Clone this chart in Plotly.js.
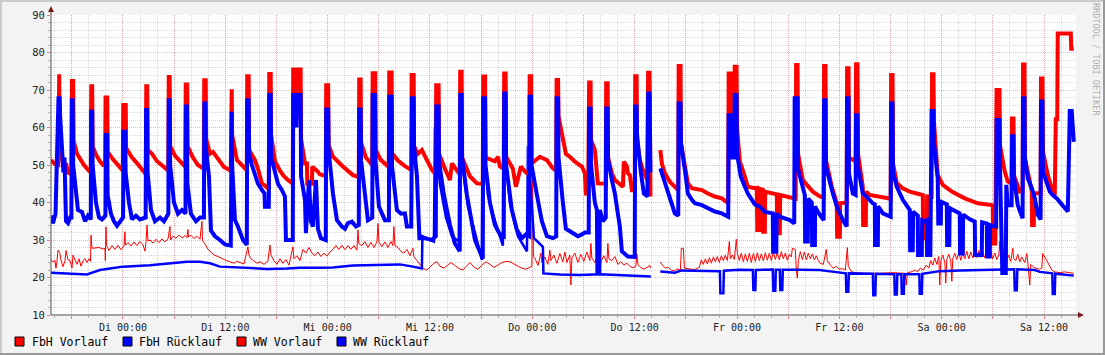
<!DOCTYPE html>
<html>
<head>
<meta charset="utf-8">
<script src="https://cdn.plot.ly/plotly-3.0.1.min.js"></script>
<style>html,body{margin:0;padding:0;background:#f3f3f3;}#chart{width:1105px;height:355px;}</style>
</head>
<body>
<div id="chart"></div>
<script>
// time axis: hours relative to "Di 00:00"
const xTickVals = [-6,0,6,12,18,24,30,36,42,48,54,60,66,72,78,84,90,96,102,108];
const xTickText = ['','Di 00:00','','Di 12:00','','Mi 00:00','','Mi 12:00','','Do 00:00','','Do 12:00','','Fr 00:00','','Fr 12:00','','Sa 00:00','','Sa 12:00'];
const seriesNames = ['FbH Vorlauf','FbH Rücklauf','WW Vorlauf','WW Rücklauf'];

// FbH Vorlauf [hour, °C]
const fbhVorlauf = [[-8.44,24.7],[-8.21,24.2],[-7.97,24.5],[-7.86,22.5],[-7.74,24.3],[-7.62,27.3],[-7.39,26.4],[-7.27,24.7],[-7.04,22.9],[-6.80,24.5],[-6.68,27.2],[-6.45,24.7],[-6.21,24.5],[-5.98,22.5],[-5.86,26],[-5.63,24.5],[-5.39,23.5],[-5.16,25],[-4.92,23],[-4.69,24.5],[-4.45,25],[-4.22,24],[-3.99,25],[-3.81,24.3],[-3.75,31.3],[-3.63,27.8],[-3.28,27.8],[-2.81,28],[-2.34,27.6],[-2.11,27.8],[-2.07,24.5],[-1.99,33.5],[-1.93,28.5],[-1.64,27.2],[-1.29,28.5],[-0.94,27.5],[-0.59,28.6],[-0.23,27.4],[0.12,28.5],[0.23,32.2],[0.29,28.6],[0.59,29.3],[0.94,28.4],[1.29,29.5],[1.64,28.5],[1.99,29.6],[2.34,28.8],[2.58,27],[2.70,29.5],[2.82,34],[2.93,29.8],[3.17,30],[3.52,29.2],[3.87,30.2],[4.22,29.3],[4.57,30.3],[4.92,29.5],[5.28,30.3],[5.51,33.6],[5.57,30],[5.86,31],[6.21,30.5],[6.57,31.3],[6.92,30.5],[7.27,31.2],[7.50,30.6],[7.62,32.8],[7.68,30.8],[7.97,31.3],[8.32,30.4],[8.68,31],[9.03,30.2],[9.26,35],[9.32,29.8],[9.61,29],[9.96,27.5],[10.32,26.8],[10.67,26],[11.02,25.7],[11.49,25.1],[11.96,24.7],[12.54,24.2],[13.01,23.8],[13.36,24.3],[13.83,24],[14.19,23.6],[14.65,28.2],[14.77,26],[15.00,25],[15.36,24.5],[15.71,23.8],[16.06,24.2],[16.53,23.5],[17.00,24.4],[17.23,28.7],[17.35,26],[17.70,24.5],[18.06,23.5],[18.41,25],[18.76,23.8],[19.11,24.8],[19.46,23.3],[19.93,28.2],[20.05,25],[20.40,25.8],[20.75,24.5],[21.10,27.5],[21.45,26.5],[21.81,28],[22.16,26.5],[22.51,25.8],[22.86,26.8],[23.21,25.6],[23.56,26.5],[23.92,25.7],[24.27,26.8],[24.62,27.5],[24.97,28.5],[25.32,27.5],[25.67,28.6],[26.03,27.4],[26.38,28.5],[26.73,27.5],[27.08,28.5],[27.43,27.3],[27.55,32.7],[27.67,29],[28.02,28.5],[28.37,29.6],[28.72,28],[29.07,29.4],[29.43,28],[29.78,29.5],[29.90,34.4],[30.01,29.5],[30.36,28.2],[30.71,29.5],[31.07,28],[31.42,29.6],[31.65,28.5],[31.77,33.6],[31.89,28.5],[32.24,28],[32.59,27],[32.95,26.5],[33.30,27.5],[33.65,25.8],[34.00,27.8],[34.11,25.6],[34.47,24.5],[34.82,23.5],[35.17,22.5],[35.64,22],[35.99,22.8],[36.46,23.8],[36.81,24.2],[37.16,23],[37.63,22.5],[38.10,23.3],[38.45,24],[38.92,23.2],[39.39,22.4],[39.86,22],[40.33,23.2],[40.68,24],[41.15,22.8],[41.62,22.2],[42.09,23.3],[42.56,24.2],[43.02,23.5],[43.49,22.7],[43.96,23.3],[44.43,24],[44.90,24.3],[45.37,24.2],[45.84,23.6],[46.31,23],[46.78,22.5],[47.25,22.2],[47.71,22.6],[47.95,23],[48.01,50],[48.13,25.5],[48.30,25.2],[48.66,23.2],[49.01,26.5],[49.12,24],[49.47,25.5],[49.82,23.5],[50.06,27.3],[50.18,24.5],[50.53,26],[50.88,23.8],[51.23,26.4],[51.58,24.2],[51.82,26.8],[52.05,24],[52.40,26],[52.52,18],[52.64,25.2],[52.99,26.5],[53.34,24],[53.69,26.2],[54.04,24.3],[54.40,26.8],[54.75,24.5],[54.87,29.1],[54.98,25.2],[55.33,24],[55.68,26],[56.04,24.2],[56.39,25.8],[56.74,24],[56.86,29.1],[56.98,25],[57.33,24.5],[57.68,25.6],[58.03,23.5],[58.38,24.2],[58.73,23.3],[59.09,23.8],[59.44,23],[59.79,22.6],[60.14,23],[60.26,26.3],[60.38,23.5],[60.73,22.6],[61.08,22.2],[61.43,22.7],[61.78,23.2],[61.90,22.5],[62.4,null],[63.01,24.2],[63.25,23.3],[63.60,22.5],[63.95,22.7],[64.30,22],[64.65,21.8],[65.01,22.3],[65.36,21.9],[65.47,27.8],[65.71,27.8],[65.83,22.5],[66.41,22.2],[67.00,22.1],[67.58,22.7],[67.82,24.7],[68.05,23.5],[68.29,25],[68.52,23.6],[68.76,25.3],[68.99,23.8],[69.23,25.5],[69.46,24.2],[69.70,25.6],[69.93,24],[70.16,25.8],[70.40,24.5],[70.63,26],[70.87,24.5],[71.10,29.6],[71.22,25],[71.45,26],[71.69,24.8],[71.92,30.2],[72.04,26.5],[72.27,24.5],[72.51,26.5],[72.74,24.2],[72.98,26.3],[73.21,24.3],[73.45,26.5],[73.68,24],[73.92,26.4],[74.15,24.3],[74.38,26.6],[74.62,24.5],[74.85,26.3],[75.09,24.4],[75.32,26.6],[75.56,24.6],[75.79,26.5],[76.03,24.5],[76.26,26.8],[76.50,24.8],[76.73,26.7],[76.96,24.7],[77.20,26.9],[77.43,25],[77.67,26.5],[77.90,24.6],[78.14,26.2],[78.37,25.5],[78.49,27.8],[78.84,27.5],[78.96,22],[79.07,19.8],[79.19,24.5],[79.43,26.9],[79.66,24.8],[79.89,26.8],[80.13,24.7],[80.36,26.5],[80.60,25],[80.83,26.3],[81.07,24.7],[81.30,25.8],[81.54,24.5],[81.77,23.8],[82.12,23.5],[82.47,27.5],[82.59,24.5],[82.94,23.3],[83.30,22.5],[83.65,23],[84.00,22.2],[84.35,22.4],[84.70,22],[84.94,28],[85.05,23],[85.40,21.6],[85.76,21.3],[86.93,21.1],[88.69,21.1],[90.21,21.3],[91.03,21.2],[91.73,21.1],[91.85,18],[91.97,21.3],[92.44,21.5],[92.91,22],[93.14,21.5],[93.49,22.5],[93.85,22],[94.20,23.3],[94.49,22.5],[94.72,24.5],[94.96,23.3],[95.19,25.2],[95.43,23.5],[95.66,25.6],[95.78,18],[95.90,24.5],[96.13,26],[96.37,24],[96.48,18.5],[96.60,24.8],[96.83,26.2],[97.07,24.4],[97.19,19],[97.30,25],[97.54,26.5],[97.77,24.8],[98.01,26.8],[98.24,24.6],[98.48,26.5],[98.71,25],[98.94,27],[99.18,25],[99.41,26.8],[99.65,25.2],[99.88,27],[100.12,25.3],[100.35,27.2],[100.59,25.4],[100.82,26.8],[101.06,25.2],[101.29,27.3],[101.52,25.5],[101.76,26.9],[101.99,25],[102.23,26.5],[102.46,24.8],[102.70,26],[102.81,29.6],[102.93,25.8],[103.17,24.5],[103.40,26.5],[103.63,24.5],[103.87,26],[104.10,24.3],[104.34,27.8],[104.45,25],[104.69,24.5],[104.92,26.2],[105.16,24.2],[105.39,25.5],[105.74,24],[105.98,26.4],[106.10,24],[106.33,18],[106.45,23.5],[106.80,22.7],[107.15,22.4],[107.50,22.2],[107.74,22.5],[107.85,26.4],[108.21,25],[108.56,23.5],[108.91,22],[109.26,21.5],[109.85,21.3],[110.43,21.5],[111.02,21.2],[111.49,21.1]];

// FbH Rücklauf [hour, °C]
const fbhRuecklauf = [[-8.44,21.3],[-7.04,21.1],[-6.21,20.9],[-5.04,20.8],[-4.22,20.8],[-3.87,21.1],[-2.70,22],[-1.52,22.4],[0,22.9],[3.17,23.3],[5.16,23.8],[7.50,24.2],[9.03,24.2],[10.20,23.8],[11.37,22.9],[12.90,22.7],[15.24,22.4],[16.88,22.3],[19.23,22.4],[20.75,22.6],[23.09,22.6],[24.62,22.7],[26.96,23.2],[28.60,23.3],[30.95,23.6],[32.47,23.5],[34.00,22.9],[35.05,22.4],[35.11,31],[36.46,29.6],[36.58,60],[37.16,45],[37.87,36],[38.57,31],[39.39,29.6],[39.45,60],[40.09,45],[40.45,38.9],[41.27,32],[42.09,24.7],[42.15,60],[42.79,42],[43.49,36],[44.55,28.5],[44.61,60],[45.37,39.8],[46.31,31],[47.37,27],[47.48,55],[48.19,30.5],[49.24,28.2],[49.30,21.1],[51.23,20.8],[53.57,20.7],[55.92,20.9],[58.26,20.7],[60.61,20.4],[61.90,20.3],[62.4,null],[63.01,21.6],[64.71,21.3],[65.53,21.9],[67.58,21.8],[69.99,21.7],[70.05,15.8],[70.40,15.8],[70.46,21.8],[72.27,22.1],[73.86,22],[73.92,16.7],[74.15,16.7],[74.21,22],[76.20,22.1],[76.26,16.5],[76.49,16.5],[76.55,22.1],[77.02,22.1],[77.08,16.7],[77.31,16.7],[77.37,22.1],[79.31,22.1],[81.65,22],[83.41,21.5],[84.76,21.1],[84.82,16.2],[85.05,16.2],[85.11,21.1],[87.93,21],[87.98,15.3],[88.22,15.3],[88.28,21],[90.45,20.9],[90.50,15.5],[90.74,15.5],[90.80,20.9],[91.27,20.9],[91.32,15.7],[91.56,15.7],[91.62,20.9],[93.38,20.9],[93.43,15.7],[93.67,15.7],[93.73,21],[94.26,21.2],[95.78,21.7],[98.12,21.9],[99.65,22],[101.64,22.2],[104.51,22.2],[104.57,16.6],[104.81,16.6],[104.87,22.2],[106.92,22],[107.50,21.5],[108.97,21.1],[109.03,15.6],[109.26,15.6],[109.32,21],[110.43,20.7],[111.49,20.5]];

// WW Vorlauf [hour, °C]
const wwVorlauf = [[-8.44,51.3],[-7.97,50.2],[-7.58,50],[-7.53,74.2],[-7.48,74.2],[-7.43,56],[-7.15,51],[-6.92,49],[-6.68,50.5],[-6.45,48],[-6.03,47.5],[-5.98,72.4],[-5.84,72.4],[-5.79,56.5],[-5.39,53],[-5.04,51.5],[-4.57,50],[-4.22,49],[-3.77,48],[-3.72,71],[-3.61,71],[-3.56,55],[-3.17,52.8],[-2.70,51],[-2.34,50],[-2.09,50],[-2.04,68],[-1.85,68],[-1.80,53.5],[-1.17,51.5],[-0.59,50],[-0.02,48.5],[0.03,66],[0.32,66],[0.37,54.5],[1.06,52],[1.64,50.5],[2.23,48.8],[2.68,47.5],[2.73,71],[2.84,71],[2.89,54],[3.40,53],[3.99,51],[4.69,49.5],[5.32,48.5],[5.37,73.5],[5.48,73.5],[5.53,55],[6.10,52.5],[6.68,51],[7.31,49.5],[7.36,71.5],[7.53,71.5],[7.58,55],[8.21,52],[8.79,50],[9.48,49],[9.53,72.6],[9.70,72.6],[9.75,57],[10.20,53],[10.55,53.5],[10.90,52.5],[11.37,51],[11.84,49.5],[12.64,48.5],[12.69,70.2],[12.75,70.2],[12.80,58],[13.36,51.3],[13.72,50.5],[14.52,48.6],[14.57,73.7],[14.74,73.7],[14.79,54],[15.47,51.3],[15.83,49],[16.30,45],[16.65,44.5],[17.10,43.5],[17.15,74.3],[17.32,74.3],[17.37,58],[17.82,51],[18.41,48.5],[18.87,47],[19.34,46],[19.91,45],[19.96,75.5],[20.28,75.5],[20.34,62],[20.40,75.5],[20.83,75.5],[20.88,57],[21.34,50.4],[21.57,50.4],[21.61,45],[22.16,45],[22.19,49.5],[22.74,48.5],[23.09,47.5],[23.78,47],[23.83,71.3],[24.06,71.3],[24.11,55.3],[24.62,52.2],[25.79,49.6],[26.96,47.3],[27.65,46.8],[27.70,72.8],[27.87,72.8],[27.92,56],[28.49,52],[29.23,50],[29.28,74.5],[29.57,74.5],[29.62,54],[30.25,51.3],[31.17,49.5],[31.22,74.7],[31.50,74.7],[31.55,53.1],[32.24,51.2],[33.06,49.7],[33.80,48.7],[33.85,74],[34.08,74],[34.13,55],[34.58,53],[35.05,54],[35.64,51.3],[36.23,48.7],[36.68,47.5],[36.73,71.3],[37.01,71.3],[37.06,53],[37.75,49],[38.34,46],[38.57,50.4],[39.04,48.7],[39.49,47.5],[39.54,74.9],[39.71,74.9],[39.76,52],[40.68,47],[41.50,45.1],[42.19,45],[42.24,73.6],[42.46,73.6],[42.51,52],[43.61,51],[43.96,52.2],[44.20,49.6],[44.65,49],[44.70,74.4],[44.87,74.4],[44.92,52.2],[45.72,49],[46.07,44.2],[46.66,49.6],[47.25,48],[47.64,47.5],[47.69,73.7],[47.86,73.7],[47.91,50.4],[48.89,52.2],[49.71,51.3],[50.41,49.1],[50.80,48.5],[50.85,72.7],[51.02,72.7],[51.07,63],[51.58,57],[51.93,53],[52.40,52.2],[52.99,50.9],[53.81,49.6],[54.16,47.8],[54.28,42.4],[54.55,42.4],[54.66,72],[54.83,72],[54.88,56.7],[55.33,54],[55.68,45.1],[56.61,45],[56.66,71.8],[56.83,71.8],[56.88,52],[57.33,47.8],[57.68,46],[58.26,44.7],[58.62,44.2],[58.73,50.9],[59.09,49.6],[59.20,47.8],[59.44,47.3],[59.67,43.3],[60.01,43.3],[60.06,73.7],[60.23,73.7],[60.28,56],[60.61,51.3],[60.96,48.7],[61.48,46],[61.58,74.6],[61.75,74.6],[61.85,41.6],[62.4,null],[63.01,54],[63.19,50.4],[63.54,47.8],[64.13,45.5],[64.71,44.2],[65.11,43.3],[65.16,76.4],[65.38,76.4],[65.43,55.8],[65.89,48.7],[66.24,45.1],[66.71,43.8],[67.88,43.3],[68.58,42.4],[69.40,41.6],[70.22,41.1],[70.97,39.8],[71.02,74.4],[71.25,74.4],[71.30,55],[71.68,55],[71.73,76.2],[71.95,76.2],[72.00,60],[72.33,51],[72.92,46.9],[73.27,44.2],[74.09,43.8],[74.32,43.9],[74.38,32.7],[74.68,32.7],[74.73,43.6],[75.03,43.4],[75.07,32.2],[75.26,32.2],[75.30,42.9],[76.67,42.2],[76.71,31.8],[77.02,31.8],[77.06,42],[78.43,41.1],[78.88,41],[78.93,76.7],[79.10,76.7],[79.15,53.1],[79.72,46],[80.19,44.7],[80.89,42.9],[81.71,41.6],[82.16,41.3],[82.21,76.4],[82.38,76.4],[82.43,51.3],[83.12,44.2],[83.70,39.8],[83.74,30.9],[84.06,30.9],[84.09,39.8],[84.86,40],[84.91,75.8],[85.08,75.8],[85.13,52],[85.91,51],[85.96,76.9],[86.13,76.9],[86.18,53.1],[86.75,44.2],[86.79,34],[87.10,34],[87.14,42.9],[87.57,42],[88.39,41.6],[89.33,41.1],[90.02,41],[90.07,74],[90.24,74],[90.29,50.4],[90.74,45.1],[91.44,43.8],[92.26,42.9],[93.08,42.4],[93.79,42],[93.82,30.4],[94.26,30.4],[94.29,41.6],[94.82,41.5],[94.87,74.2],[95.04,74.2],[95.09,61.6],[95.54,47.3],[96.13,44.7],[97.19,42.9],[98.71,41.1],[100.23,39.8],[101.88,39.3],[101.99,39],[102.03,29.1],[102.29,29.1],[102.44,70],[102.78,70],[102.83,55.3],[103.40,48.2],[103.75,45.6],[104.20,45],[104.25,62.4],[104.42,62.4],[104.47,47.3],[105.16,42.9],[105.49,43],[105.54,76.8],[105.71,76.8],[105.76,51.8],[106.33,45.6],[106.57,42.9],[106.60,34],[106.80,34],[106.84,42.5],[107.60,42.5],[107.65,73.1],[107.82,73.1],[107.87,53.6],[108.44,47.3],[108.91,43.8],[109.26,42],[109.38,62.2],[109.55,62.2],[109.61,85.1],[111.14,85.1],[111.19,81],[111.49,81]];

// WW Rücklauf [hour, °C]
const wwRuecklauf = [[-8.44,36.5],[-8.21,34.5],[-7.91,37],[-7.80,45],[-7.56,67.8],[-7.42,67.8],[-7.37,63],[-6.98,48],[-6.86,52],[-6.68,35],[-6.45,34.5],[-6.21,36],[-6.05,36],[-6.00,67.3],[-5.89,67.3],[-5.84,50],[-5.51,44],[-5.28,38],[-4.81,37.5],[-4.45,35],[-4.10,36.5],[-3.77,35.5],[-3.72,64.2],[-3.61,64.2],[-3.56,50],[-3.17,40],[-2.81,36],[-2.46,35.5],[-2.06,36.5],[-2.01,58],[-1.85,58],[-1.80,42],[-1.41,37],[-1.06,35],[-0.70,33.8],[-0.35,35],[0.01,36],[0.06,58.9],[0.26,58.9],[0.31,48],[0.70,40],[1.06,35.5],[1.52,36.5],[1.99,35.5],[2.66,36],[2.71,64.7],[2.84,64.7],[2.89,48],[3.28,38],[3.75,35],[4.34,36],[4.81,35],[5.32,37],[5.37,67.3],[5.48,67.3],[5.53,50],[5.98,40],[6.45,37],[6.92,38],[7.33,37],[7.38,65.6],[7.50,65.6],[7.55,45],[7.97,37],[8.56,35],[9.03,36],[9.49,36],[9.54,66.4],[9.65,66.4],[9.70,55],[10.08,47],[10.32,32.5],[10.79,31],[11.37,30],[11.96,28.8],[12.64,28.5],[12.69,64.2],[12.75,64.2],[12.80,50],[13.13,35.3],[13.48,33.6],[14.07,30],[14.52,28.7],[14.57,67.3],[14.74,67.3],[14.79,53],[15.12,50],[15.47,47.8],[15.83,45],[16.30,43.3],[16.59,42.5],[16.65,38.9],[17.10,38.9],[17.15,68.7],[17.32,68.7],[17.37,52.2],[17.82,48.5],[18.17,45],[18.64,43.3],[18.99,41.6],[19.11,30],[19.91,30],[19.96,68.7],[20.28,68.7],[20.34,60],[20.40,68.7],[20.83,68.7],[20.88,47],[21.34,40.7],[21.45,31.8],[21.81,46],[22.04,35],[22.27,33.6],[22.63,46],[22.86,33],[23.21,30.5],[23.78,30],[23.83,64.8],[24.06,64.8],[24.11,54],[24.62,42.4],[25.09,35.3],[25.67,33.6],[26.03,33],[26.38,34.5],[26.85,34.9],[27.32,33.6],[27.65,34],[27.70,64.8],[27.87,64.8],[27.92,51.3],[28.37,42.4],[28.72,35.3],[29.23,36],[29.28,68.7],[29.57,68.7],[29.62,51],[30.01,38.9],[30.71,35.3],[31.18,35.3],[31.23,68.2],[31.50,68.2],[31.55,49.6],[32.12,38],[32.59,37],[33.06,37.1],[33.29,33.6],[33.80,33.6],[33.90,67.8],[34.08,67.8],[34.13,55],[34.47,47],[34.76,30.5],[35.40,30.5],[36.23,30],[36.68,31],[36.73,65.6],[37.01,65.6],[37.06,51],[37.63,42],[38.34,34],[38.92,29.1],[39.49,27],[39.54,68.7],[39.71,68.7],[39.76,52],[40.33,42],[41.27,30],[42.19,25],[42.24,67.8],[42.46,67.8],[42.51,50],[43.02,40],[43.61,34],[44.20,31.5],[44.65,31],[44.70,69.1],[44.87,69.1],[44.92,50],[45.60,38],[46.19,32.7],[46.78,30.5],[47.25,31.5],[47.64,31],[47.69,68.2],[47.86,68.2],[47.91,50],[48.54,42],[49.12,35],[49.71,31],[50.41,30.5],[50.80,31],[50.85,67.8],[51.02,67.8],[51.07,52],[51.58,40],[51.93,33],[52.64,32],[53.34,31],[53.81,31.5],[54.16,32],[54.61,32],[54.66,65.1],[54.83,65.1],[54.88,50],[55.33,40],[55.57,38],[55.63,21.6],[55.86,21.6],[55.92,38],[56.27,35],[56.61,36],[56.66,65.1],[56.83,65.1],[56.88,51.3],[57.33,46],[57.68,42.4],[58.03,37],[58.26,33.6],[58.50,27],[59.20,25.6],[60.01,25.5],[60.06,65.6],[60.23,65.6],[60.28,58],[60.73,48],[61.08,42.4],[61.50,41.6],[61.58,69.1],[61.75,69.1],[61.85,48],[62.4,null],[63.01,49.1],[63.19,47.8],[63.77,44.2],[64.36,40],[64.71,37.1],[65.11,36.5],[65.16,66.4],[65.38,66.4],[65.43,55.8],[65.89,48.7],[66.24,42.4],[66.71,40.7],[67.06,39.8],[67.88,39.3],[68.58,38.5],[69.40,37.6],[70.22,37.1],[70.97,36.2],[71.02,63.3],[71.25,63.3],[71.30,52],[71.68,52],[71.73,68.7],[71.95,68.7],[72.00,53],[72.45,46.9],[72.92,44.2],[73.27,42.4],[74.09,39.5],[74.68,38.9],[75.26,37.5],[76.20,37.1],[76.23,26.9],[76.61,26.9],[76.65,37],[77.02,36.2],[78.19,35.3],[78.71,34.4],[78.76,67.8],[79.10,67.8],[79.15,49],[79.72,44.2],[79.95,42],[79.99,29.6],[80.30,29.6],[80.34,41],[80.77,40],[80.81,28.7],[81.13,28.7],[81.16,39],[81.48,37.5],[82.16,35.3],[82.21,67.3],[82.38,67.3],[82.43,49.6],[83.24,42.4],[83.70,39],[84.41,35.3],[84.86,33.6],[84.91,67.8],[85.08,67.8],[85.13,47.8],[85.58,42.4],[85.91,42],[85.96,63.3],[86.13,63.3],[86.18,49.6],[86.75,42.4],[87.22,41.5],[87.92,39.8],[88.16,39.5],[88.19,28.7],[88.51,28.7],[88.55,39],[89.10,37.1],[90.02,36.2],[90.07,66.4],[90.24,66.4],[90.29,48],[90.74,44.2],[91.09,42.4],[91.44,40.7],[92.26,38],[92.30,27.3],[92.61,27.3],[92.65,37.5],[93.20,36.5],[93.23,26],[93.67,26],[93.71,35.3],[94.02,35],[94.26,35.3],[94.29,26],[94.67,26],[94.82,64.4],[95.04,64.4],[95.09,56],[95.54,46.4],[95.60,34.4],[95.90,34.4],[95.93,40.2],[96.48,39.7],[96.60,39.5],[96.64,28.7],[96.89,28.7],[96.93,38.5],[97.77,37.5],[98.12,37.1],[98.16,26.4],[98.48,26.4],[98.51,36.8],[99.30,35.5],[99.88,34.9],[99.92,26],[100.70,26],[100.74,34.7],[101.29,34.4],[101.33,25.6],[101.64,25.6],[101.68,34],[102.39,33.6],[102.44,62],[102.78,62],[102.83,50],[103.11,21.2],[103.52,21.2],[103.58,44.7],[103.75,39.3],[104.20,39.3],[104.25,57.7],[104.42,57.7],[104.47,47],[104.92,39.3],[105.49,35.8],[105.54,67.8],[105.71,67.8],[105.76,51.8],[106.10,46.4],[106.57,43.8],[106.92,41.1],[107.27,36.7],[107.60,35.5],[107.65,66.9],[107.82,66.9],[107.87,48.2],[108.32,45.6],[108.68,42.9],[109.03,42],[109.50,41.1],[110.08,39.5],[110.43,38.4],[110.79,37.6],[110.90,50],[111.02,64.4],[111.25,64.4],[111.37,58],[111.49,56.2]];

const seriesData = [fbhVorlauf, fbhRuecklauf, wwVorlauf, wwRuecklauf];
const seriesColors = ['#ff0000','#0000ff','#ff0000','#0000ff'];
const seriesWidths = [1, 2.5, 4, 4];

const traces = seriesData.map((d, i) => ({
  type: 'scatter', mode: 'lines', name: seriesNames[i],
  x: d.map(p => p[0]), y: d.map(p => p[1]),
  line: {color: seriesColors[i], width: seriesWidths[i]},
  connectgaps: false, hoverinfo: 'skip', showlegend: false
}));

// pixel helpers for decorations (plot area: x 51..1076, y 15..315)
const PL = 51, PW = 1025, PT = 15, PH = 300;
const px = v => (v - PL) / PW;
const py = v => (PT + PH - v) / PH;

const shapes = [
  {type:'line', xref:'paper', yref:'paper', x0:px(0), x1:px(1105), y0:py(1), y1:py(1), line:{color:'#cbcbcb', width:2}},
  {type:'line', xref:'paper', yref:'paper', x0:px(1), x1:px(1), y0:py(0), y1:py(355), line:{color:'#cbcbcb', width:2}},
  {type:'line', xref:'paper', yref:'paper', x0:px(0), x1:px(1105), y0:py(354), y1:py(354), line:{color:'#999999', width:2}},
  {type:'line', xref:'paper', yref:'paper', x0:px(1104), x1:px(1104), y0:py(0), y1:py(355), line:{color:'#999999', width:2}},
  {type:'line', xref:'paper', yref:'paper', x0:0, x1:px(1080), y0:0, y1:0, line:{color:'#505050', width:1}},
  {type:'line', xref:'paper', yref:'paper', x0:0, x1:0, y0:0, y1:py(9), line:{color:'#505050', width:1}},
  {type:'path', xref:'paper', yref:'paper', path:`M ${px(48)} ${py(12)} L ${px(54)} ${py(12)} L ${px(51)} ${py(6)} Z`, fillcolor:'#7a1c1c', line:{width:0}},
  {type:'path', xref:'paper', yref:'paper', path:`M ${px(1078)} ${py(312)} L ${px(1078)} ${py(318)} L ${px(1084)} ${py(315)} Z`, fillcolor:'#7a1c1c', line:{width:0}}
];

const legendBoxX = [15, 123, 237, 337];
const legendTextX = [30, 137, 251, 351];
const annotations = [];
seriesNames.forEach((n, i) => {
  shapes.push({type:'rect', xref:'paper', yref:'paper', x0:px(legendBoxX[i]), x1:px(legendBoxX[i]+9), y0:py(337), y1:py(346),
    fillcolor: seriesColors[i], line:{color:'#000000', width:1}});
  annotations.push({xref:'paper', yref:'paper', x:px(legendTextX[i]), y:py(341.5), xanchor:'left', yanchor:'middle',
    text:n, showarrow:false, font:{family:'DejaVu Sans Mono', size:11.5, color:'#000'}});
});
annotations.push({xref:'paper', yref:'paper', x:px(1096), y:py(59), xanchor:'center', yanchor:'middle', textangle:90,
  text:'RRDTOOL / TOBI OETIKER', showarrow:false, font:{family:'DejaVu Sans Mono', size:8.5, color:'#b0b0b0'}});

const gridMajor = 'rgba(235,120,120,0.55)';
const gridMinor = 'rgba(170,170,170,0.45)';
const layout = {
  width: 1105, height: 355,
  margin: {l: PL, r: 1105 - PL - PW, t: PT, b: 355 - PT - PH, pad: 0},
  paper_bgcolor: '#f3f3f3', plot_bgcolor: '#ffffff',
  showlegend: false,
  xaxis: {
    range: [-8.44, 111.75], tickmode: 'array', tickvals: xTickVals, ticktext: xTickText,
    showgrid: true, gridcolor: gridMajor, griddash: '1px,1px', gridwidth: 1,
    ticks: 'outside', ticklen: 3, tickcolor: '#e08080', tickwidth: 1,
    tickfont: {family: 'DejaVu Sans Mono', size: 10, color: '#222'},
    zeroline: false, showline: false, fixedrange: true,
    minor: {tickmode: 'linear', tick0: 0, dtick: 2, showgrid: true, gridcolor: gridMinor, griddash: '1px,1px', gridwidth: 1,
            ticks: 'outside', ticklen: 2, tickcolor: '#b0b0b0'}
  },
  yaxis: {
    range: [10, 90], tickmode: 'linear', tick0: 10, dtick: 10,
    showgrid: true, gridcolor: gridMajor, griddash: '1px,1px', gridwidth: 1,
    ticks: 'outside', ticklen: 3, tickcolor: '#e08080', tickwidth: 1,
    tickfont: {family: 'DejaVu Sans Mono', size: 10.5, color: '#222'},
    zeroline: false, showline: false, fixedrange: true,
    minor: {tickmode: 'linear', tick0: 10, dtick: 2, showgrid: true, gridcolor: gridMinor, griddash: '1px,1px', gridwidth: 1,
            ticks: 'outside', ticklen: 2, tickcolor: '#b0b0b0'}
  },
  shapes: shapes,
  annotations: annotations
};

Plotly.newPlot('chart', traces, layout, {displayModeBar: false, staticPlot: true});
</script>
</body>
</html>
